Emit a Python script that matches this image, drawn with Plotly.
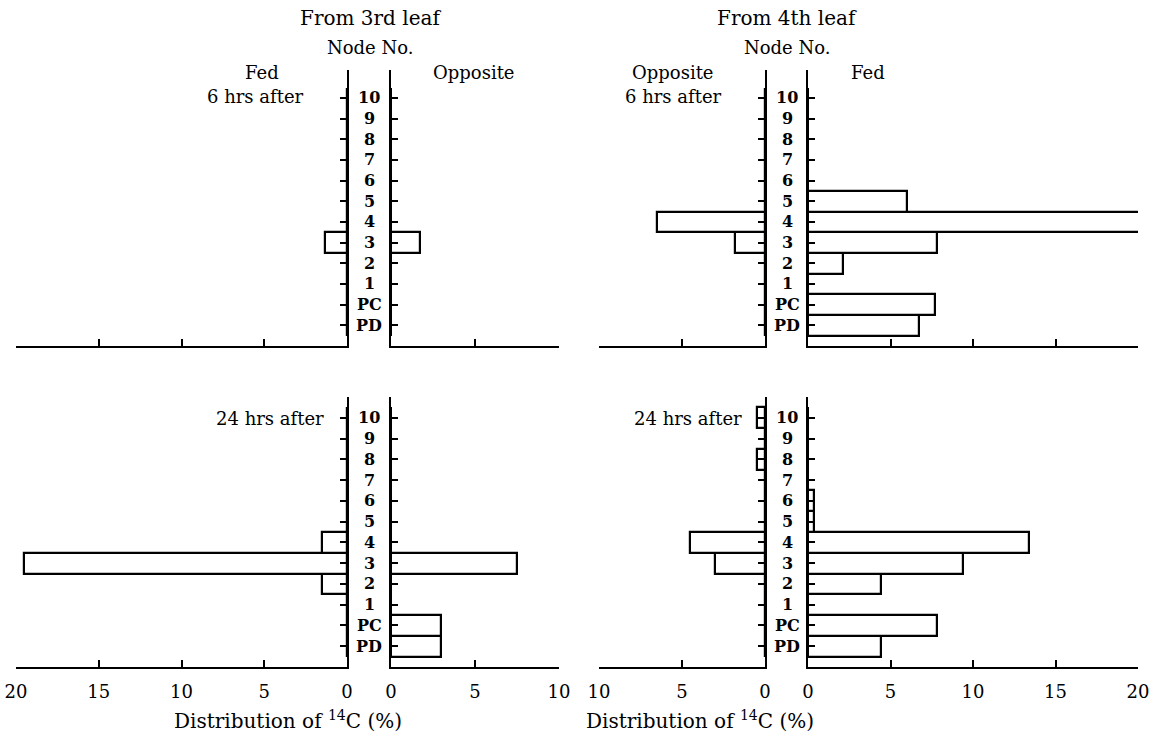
import plotly.graph_objects as go

W, H = 1158, 741

# ---------------- data ----------------
nodes = ["PD", "PC", "1", "2", "3", "4", "5", "6", "7", "8", "9", "10"]

# From 3rd leaf
fed_3rd_6h = [0, 0, 0, 0, 1.3, 0, 0, 0, 0, 0, 0, 0]
opp_3rd_6h = [0, 0, 0, 0, 1.7, 0, 0, 0, 0, 0, 0, 0]
fed_3rd_24h = [0, 0, 0, 1.5, 19.5, 1.5, 0, 0, 0, 0, 0, 0]
opp_3rd_24h = [3.0, 3.0, 0, 0, 7.5, 0, 0, 0, 0, 0, 0, 0]

# From 4th leaf
opp_4th_6h = [0, 0, 0, 0, 1.8, 6.5, 0, 0, 0, 0, 0, 0]
fed_4th_6h = [6.7, 7.7, 0, 2.1, 7.8, 20.3, 6.0, 0, 0, 0, 0, 0]
opp_4th_24h = [0, 0, 0, 0, 3.0, 4.5, 0, 0, 0, 0.5, 0, 0.5]
fed_4th_24h = [4.4, 7.8, 0, 4.4, 9.4, 13.4, 0.35, 0.35, 0, 0, 0, 0]

ticks_20 = [0, 5, 10, 15, 20]
ticks_10 = [0, 5, 10]

# ---------------- layout helpers ----------------
def px_x(p):
    return p / W

def px_y(p):
    return 1 - p / H

xdom = {
    "L1": [px_x(16), px_x(347)],
    "R1": [px_x(391), px_x(559)],
    "L2": [px_x(599), px_x(765)],
    "R2": [px_x(808), px_x(1138)],
}
ydom_top = [px_y(346), px_y(70)]
ydom_bot = [px_y(667), px_y(397)]
yrange_top = [-1, 12.35]
yrange_bot = [-1, 12]

FONT = "DejaVu Serif"
LINE_W = 2.2

fig = go.Figure()

panels = [
    (1, fed_3rd_6h, "L1", [20, 0], ticks_20, "right", False),
    (2, opp_3rd_6h, "R1", [0, 10], ticks_10, "left", False),
    (3, opp_4th_6h, "L2", [10, 0], ticks_10, "right", False),
    (4, fed_4th_6h, "R2", [0, 20], ticks_20, "left", False),
    (5, fed_3rd_24h, "L1", [20, 0], ticks_20, "right", True),
    (6, opp_3rd_24h, "R1", [0, 10], ticks_10, "left", True),
    (7, opp_4th_24h, "L2", [10, 0], ticks_10, "right", True),
    (8, fed_4th_24h, "R2", [0, 20], ticks_20, "left", True),
]

ypos = list(range(len(nodes)))

for idx, vals, key, xr, tv, side, bottom in panels:
    sfx = "" if idx == 1 else str(idx)
    fig.add_trace(go.Bar(
        x=vals, y=ypos, orientation="h", width=1,
        marker=dict(color="white", line=dict(color="black", width=LINE_W)),
        xaxis="x" + sfx, yaxis="y" + sfx, showlegend=False,
        cliponaxis=False, hoverinfo="skip",
    ))
    fig.layout["xaxis" + sfx] = dict(
        domain=xdom[key], range=xr, anchor="y" + sfx, automargin=False,
        showgrid=False, zeroline=False, showline=True,
        linecolor="black", linewidth=LINE_W,
        ticks="inside", ticklen=7, tickwidth=2, tickcolor="black",
        tickvals=tv, ticktext=[str(v) for v in tv],
        showticklabels=bottom, ticklabelstandoff=7,
        tickfont=dict(family=FONT, size=18, color="black"),
        fixedrange=True,
    )
    fig.layout["yaxis" + sfx] = dict(
        domain=ydom_bot if bottom else ydom_top,
        range=yrange_bot if bottom else yrange_top,
        anchor="x" + sfx, side=side, automargin=False,
        showgrid=False, zeroline=False, showline=True,
        linecolor="black", linewidth=LINE_W,
        ticks="inside", ticklen=7, tickwidth=2, tickcolor="black",
        tickvals=ypos, showticklabels=False, fixedrange=True,
    )

annotations = []

# node labels in the centre gaps
for yref in ["y2", "y4", "y6", "y8"]:
    xc = 369 if yref in ("y2", "y6") else 787
    for i, n in enumerate(nodes):
        annotations.append(dict(
            x=px_x(xc), xref="paper", y=i, yref=yref, text="<b>%s</b>" % n,
            showarrow=False, xanchor="center", yanchor="middle",
            font=dict(family=FONT, size=16, color="black"),
        ))

def txt(x, y, t, size=19):
    annotations.append(dict(
        x=px_x(x), y=px_y(y), xref="paper", yref="paper", text=t,
        showarrow=False, xanchor="center", yanchor="middle",
        font=dict(family=FONT, size=size, color="black"),
    ))

txt(370, 18, "From 3rd leaf", 20)
txt(787, 18, "From 4th leaf", 20)
txt(370, 48, "Node No.", 18)
txt(787, 48, "Node No.", 18)
txt(262, 72, "Fed", 18)
txt(255, 96, "6 hrs after", 18)
txt(474, 72, "Opposite", 18)
txt(673, 72, "Opposite", 18)
txt(673, 96, "6 hrs after", 18)
txt(868, 72, "Fed", 18)
txt(270, 418, "24 hrs after", 18)
txt(688, 418, "24 hrs after", 18)
txt(288, 720, "Distribution of <sup>14</sup>C (%)", 20)
txt(700, 720, "Distribution of <sup>14</sup>C (%)", 20)

fig.update_layout(
    width=W, height=H,
    margin=dict(l=0, r=0, t=0, b=0, autoexpand=False),
    paper_bgcolor="white", plot_bgcolor="rgba(0,0,0,0)",
    barmode="overlay", bargap=0,
    annotations=annotations,
    showlegend=False,
)

fig.write_html(
    "out.html",
    config={"displayModeBar": False},
    post_script="document.body.style.margin='0';document.body.style.overflow='hidden';",
)
